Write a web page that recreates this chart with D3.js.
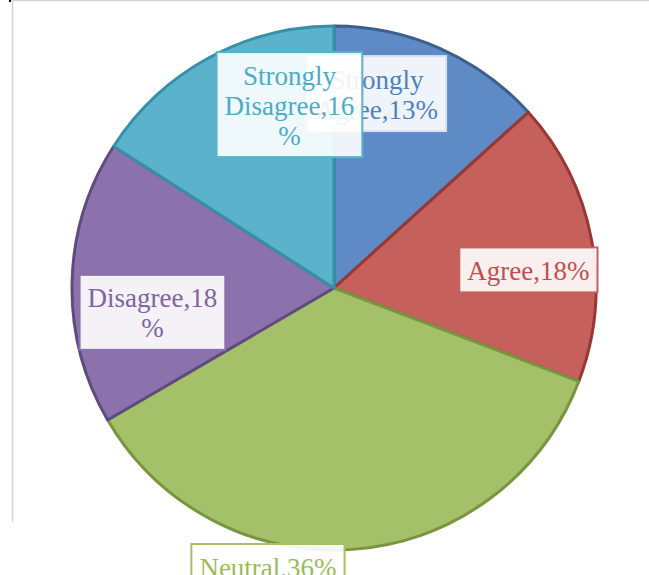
<!DOCTYPE html>
<html>
<head>
<meta charset="utf-8">
<script src="https://cdn.jsdelivr.net/npm/d3@7"></script>
<style>
  html, body { margin: 0; padding: 0; background: #fff; }
  svg { display: block; }
</style>
</head>
<body>
<svg id="chart" width="649" height="575"></svg>
<script>
// ---- data ----
const categories = ["Strongly Agree", "Agree", "Neutral", "Disagree", "Strongly Disagree"];
const values = [13.3, 17.5, 35.8, 17.5, 15.9];
const labelLines = [
  ["Strongly", "Agree,13%"],
  ["Agree,18%"],
  ["Neutral,36%"],
  ["Disagree,18", "%"],
  ["Strongly", "Disagree,16", "%"]
];
const fillColors = ["#5E8BC6", "#C6605C", "#A4C068", "#8C72AC", "#5AB3CA"];
const strokeColors = ["#3C5F8F", "#983734", "#789640", "#5F4B80", "#3590A8"];
const textColors = ["#4F81BD", "#C0504D", "#9BBB59", "#8064A2", "#4BACC6"];

// ---- layout ----
const W = 649, H = 575;
const cx = 334, cy = 288, R = 262;
// label box centres relative to pie centre, in units of R
const labelPos = [
  [0.164, -0.742],
  [0.742, -0.069],
  [-0.252, 1.063],
  [-0.693, 0.093],
  [-0.170, -0.700]
];
const fontSize = 27, lineH = 30;

const svg = d3.select("#chart");

// frame lines
svg.append("line").attr("x1", 12).attr("x2", W).attr("y1", 0.5).attr("y2", 0.5)
  .attr("stroke", "#d4d4d4").attr("stroke-width", 1.5);
svg.append("line").attr("x1", 12.5).attr("x2", 12.5).attr("y1", 0).attr("y2", 522)
  .attr("stroke", "#d4d4d4").attr("stroke-width", 1.5);
svg.append("rect").attr("x", 9).attr("y", 0).attr("width", 2).attr("height", 2).attr("fill", "#000");

const pie = d3.pie().sort(null).value(d => d).startAngle(0).endAngle(2 * Math.PI);
const arcs = pie(values);
const arc = d3.arc().innerRadius(0).outerRadius(R);

const g = svg.append("g").attr("transform", `translate(${cx},${cy})`);
g.selectAll("path.slice").data(arcs).join("path")
  .attr("class", "slice")
  .attr("d", arc)
  .attr("fill", (d, i) => fillColors[i])
  .attr("stroke", (d, i) => strokeColors[i])
  .attr("stroke-width", 3)
  .attr("stroke-linejoin", "round");

// labels (draw order so that Strongly Disagree sits on top of Strongly Agree)
const order = [0, 1, 2, 3, 4];
order.forEach(i => {
  const lx = labelPos[i][0] * R, ly = labelPos[i][1] * R;
  const lg = g.append("g").attr("transform", `translate(${lx},${ly})`);
  const rect = lg.append("rect");
  const lines = labelLines[i];
  const n = lines.length;
  const txt = lg.append("text")
    .attr("text-anchor", "middle")
    .attr("font-family", "'Liberation Serif', 'Times New Roman', serif")
    .attr("font-size", fontSize)
    .attr("fill", textColors[i]);
  lines.forEach((l, k) => {
    txt.append("tspan").attr("x", 0).attr("y", (k - (n - 1) / 2) * lineH + 10).text(l);
  });
  const bb = txt.node().getBBox();
  const bw = bb.width + 16, bh = n * lineH + 15;
  rect.attr("x", -bw / 2).attr("y", -bh / 2).attr("width", bw).attr("height", bh)
    .attr("fill", "#fff").attr("fill-opacity", 0.9)
    .attr("stroke", i === 0 ? "#d8e1ef" : fillColors[i])
    .attr("stroke-width", 2);
});
</script>
</body>
</html>
